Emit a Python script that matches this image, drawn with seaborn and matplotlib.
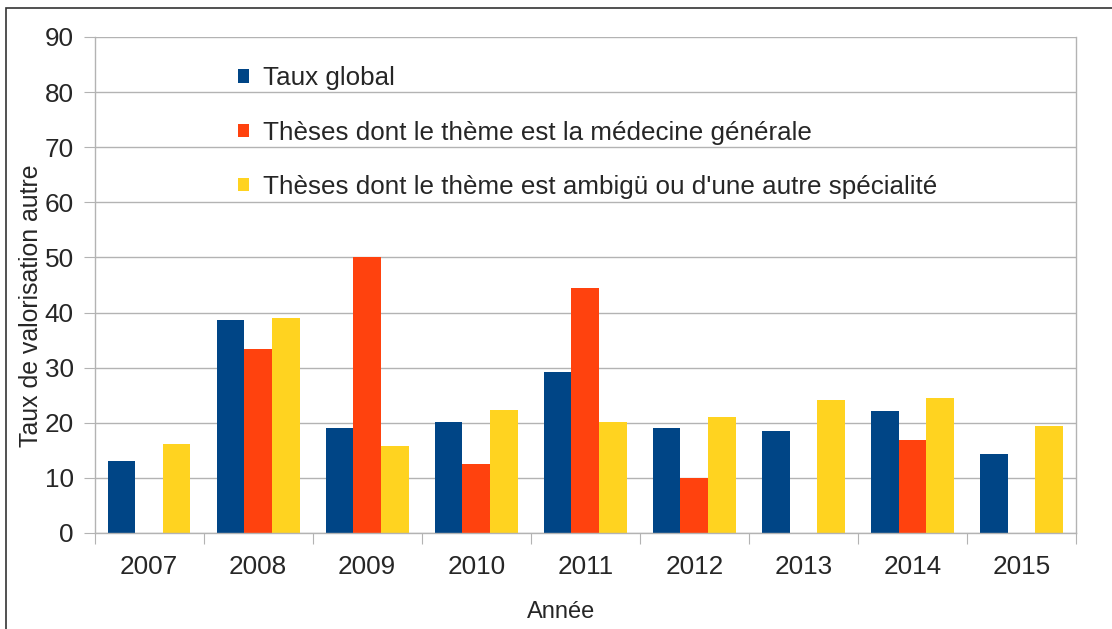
import matplotlib
matplotlib.use("Agg")
import matplotlib.pyplot as plt
from matplotlib.patches import Rectangle
import pandas as pd
import seaborn as sns

# données
annees = ["2007", "2008", "2009", "2010", "2011", "2012", "2013", "2014", "2015"]
taux_global = [13.0, 38.6, 19.0, 20.1, 29.2, 19.0, 18.5, 22.1, 14.3]
taux_mg = [0.0, 33.3, 50.0, 12.5, 44.4, 10.0, 0.0, 16.8, 0.0]
taux_autre = [16.1, 39.1, 15.8, 22.3, 20.1, 21.0, 24.1, 24.5, 19.4]

series = [
    "Taux global",
    "Thèses dont le thème est la médecine générale",
    "Thèses dont le thème est ambigü ou d'une autre spécialité",
]
couleurs = ["#004586", "#ff420e", "#ffd320"]

df = pd.DataFrame({
    "Année": annees * 3,
    "Taux": taux_global + taux_mg + taux_autre,
    "Série": [series[0]] * 9 + [series[1]] * 9 + [series[2]] * 9,
})

sns.set_style("white")
plt.rcParams["font.family"] = ["Liberation Sans", "DejaVu Sans"]

fig = plt.figure(figsize=(11.12, 6.29), dpi=100)
ax = fig.add_axes([94.5 / 1112, 1 - 533 / 629, 981.5 / 1112, 496 / 629])

sns.barplot(data=df, x="Année", y="Taux", hue="Série", palette=couleurs,
            width=0.76, saturation=1, ax=ax, linewidth=0)

ax.set_ylim(0, 90)
ax.set_xlim(-0.5, len(annees) - 0.5)
ax.set_yticks(range(0, 91, 10))
ax.yaxis.grid(True, color="#b3b3b3", linewidth=1.0)
ax.set_axisbelow(True)

# graduations entre les catégories
ax.set_xticks([i - 0.5 for i in range(len(annees) + 1)], minor=True)
ax.tick_params(axis="x", which="minor", length=8, width=0.8, color="#b3b3b3",
               direction="out", bottom=True)
ax.tick_params(axis="x", which="major", length=0, pad=16, labelsize=18.8)
ax.tick_params(axis="y", length=8, width=0.8, color="#b3b3b3", pad=7,
               labelsize=18.8, left=True)

for side in ["left", "right", "bottom"]:
    ax.spines[side].set_color("#b3b3b3")
    ax.spines[side].set_linewidth(1.0)
ax.spines["top"].set_visible(False)

ax.set_xlabel("Année", fontsize=17)
ax.set_ylabel("Taux de valorisation autre", fontsize=17.9)
ax.xaxis.set_label_coords(0.475, -0.137)
ax.yaxis.set_label_coords(-0.0525, 0.458)

sns.move_legend(ax, "upper left", bbox_to_anchor=(228 / 1112, 1 - 56 / 629),
                bbox_transform=fig.transFigure, title=None, frameon=False,
                fontsize=18.7, handlelength=0.42, handleheight=0.42,
                handletextpad=0.52, labelspacing=1.16, borderaxespad=0)

# cadre extérieur
fig.patches.append(Rectangle((6 / 1112, -0.1), 1.2, 1 - 8 / 629 + 0.1,
                             transform=fig.transFigure, fill=False,
                             edgecolor="#333333", linewidth=1.2))

fig.savefig("out.png", dpi=100)
